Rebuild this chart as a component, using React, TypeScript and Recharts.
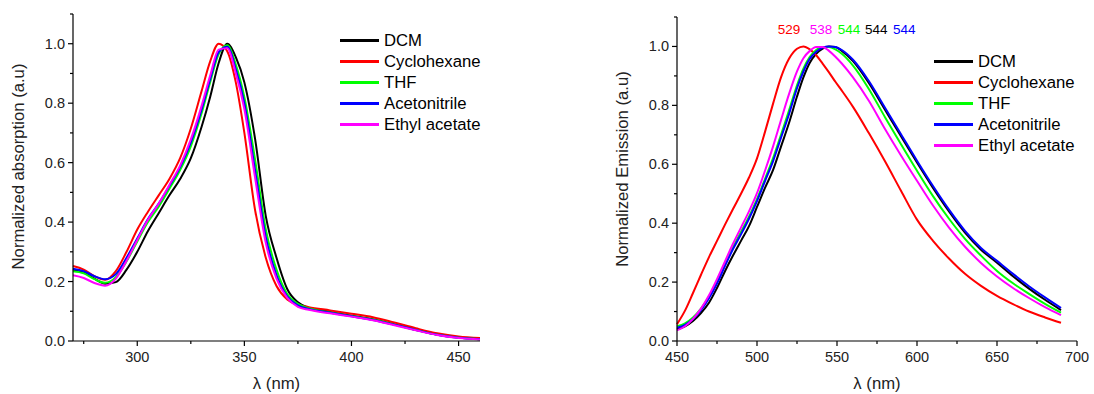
import React from 'react';
import { LineChart, Line, XAxis, YAxis, Legend, ReferenceDot } from 'recharts';

// absorption spectra (normalized)
const absWl = [270, 275, 280, 285, 290, 295, 300, 305, 310, 315, 320, 325, 330, 334, 338, 342, 346, 350, 355, 360, 365, 370, 375, 380, 390, 400, 410, 420, 430, 440, 450, 460];
const absDCM = [0.240, 0.232, 0.210, 0.193, 0.198, 0.240, 0.300, 0.370, 0.430, 0.490, 0.545, 0.615, 0.720, 0.820, 0.935, 1.000, 0.955, 0.870, 0.680, 0.420, 0.280, 0.175, 0.130, 0.112, 0.098, 0.085, 0.073, 0.056, 0.038, 0.022, 0.012, 0.006];
const absCyclo = [0.252, 0.240, 0.218, 0.206, 0.235, 0.300, 0.375, 0.435, 0.490, 0.545, 0.615, 0.715, 0.840, 0.940, 1.000, 0.975, 0.870, 0.700, 0.440, 0.280, 0.185, 0.140, 0.122, 0.114, 0.103, 0.092, 0.080, 0.062, 0.043, 0.026, 0.015, 0.010];
const absTHF = [0.235, 0.228, 0.208, 0.196, 0.215, 0.268, 0.335, 0.400, 0.452, 0.512, 0.575, 0.655, 0.765, 0.870, 0.965, 0.995, 0.930, 0.820, 0.610, 0.375, 0.240, 0.158, 0.125, 0.110, 0.096, 0.084, 0.072, 0.055, 0.037, 0.021, 0.011, 0.006];
const absMeCN = [0.243, 0.235, 0.218, 0.208, 0.225, 0.280, 0.345, 0.410, 0.462, 0.522, 0.585, 0.668, 0.778, 0.880, 0.972, 0.990, 0.915, 0.800, 0.575, 0.350, 0.222, 0.150, 0.120, 0.108, 0.095, 0.083, 0.071, 0.055, 0.037, 0.021, 0.011, 0.006];
const absEtOAc = [0.221, 0.212, 0.195, 0.186, 0.210, 0.270, 0.340, 0.408, 0.462, 0.525, 0.590, 0.678, 0.790, 0.892, 0.980, 0.985, 0.900, 0.780, 0.550, 0.330, 0.210, 0.145, 0.115, 0.105, 0.093, 0.082, 0.070, 0.053, 0.036, 0.020, 0.010, 0.005];

// emission spectra (normalized)
const emWl = [450, 455, 460, 465, 470, 475, 480, 485, 490, 495, 500, 505, 510, 515, 520, 525, 529, 533, 537, 541, 545, 549, 553, 560, 570, 580, 590, 600, 610, 620, 630, 640, 650, 660, 670, 680, 690];
const emDCM = [0.040, 0.050, 0.068, 0.095, 0.130, 0.180, 0.237, 0.290, 0.340, 0.390, 0.455, 0.520, 0.580, 0.660, 0.740, 0.830, 0.895, 0.945, 0.975, 0.993, 1.000, 0.998, 0.985, 0.950, 0.875, 0.785, 0.695, 0.606, 0.520, 0.440, 0.368, 0.310, 0.266, 0.220, 0.178, 0.140, 0.105];
const emCyclo = [0.057, 0.103, 0.163, 0.225, 0.285, 0.340, 0.395, 0.448, 0.500, 0.555, 0.620, 0.710, 0.805, 0.895, 0.958, 0.992, 1.000, 0.990, 0.970, 0.942, 0.912, 0.880, 0.850, 0.795, 0.705, 0.610, 0.510, 0.412, 0.340, 0.280, 0.228, 0.187, 0.153, 0.125, 0.100, 0.080, 0.062];
const emTHF = [0.050, 0.060, 0.080, 0.110, 0.150, 0.200, 0.260, 0.318, 0.370, 0.422, 0.482, 0.550, 0.620, 0.700, 0.782, 0.868, 0.925, 0.965, 0.988, 0.998, 0.998, 0.990, 0.975, 0.935, 0.855, 0.760, 0.668, 0.578, 0.492, 0.415, 0.347, 0.290, 0.238, 0.196, 0.160, 0.126, 0.096];
const emMeCN = [0.045, 0.055, 0.075, 0.105, 0.145, 0.195, 0.255, 0.312, 0.362, 0.415, 0.475, 0.543, 0.610, 0.690, 0.770, 0.858, 0.915, 0.958, 0.982, 0.996, 1.000, 0.998, 0.988, 0.955, 0.882, 0.792, 0.702, 0.612, 0.526, 0.446, 0.374, 0.316, 0.272, 0.228, 0.186, 0.148, 0.112];
const emEtOAc = [0.036, 0.050, 0.075, 0.110, 0.155, 0.210, 0.270, 0.330, 0.385, 0.440, 0.502, 0.578, 0.660, 0.750, 0.838, 0.915, 0.960, 0.985, 0.998, 0.998, 0.985, 0.965, 0.942, 0.895, 0.815, 0.720, 0.630, 0.544, 0.460, 0.385, 0.320, 0.265, 0.219, 0.180, 0.146, 0.115, 0.088];

const solvents = ['DCM', 'Cyclohexane', 'THF', 'Acetonitrile', 'Ethyl acetate'];
const colors = ['#000000', '#ff0000', '#00ff00', '#0000ff', '#ff00ff'];

// emission maxima labels
const peakLabels = ['529', '538', '544', '544', '544'];
const peakColors = ['#ff0000', '#ff00ff', '#00ff00', '#000000', '#0000ff'];
const peakLabelX = [520, 540, 557.5, 574.5, 592];

const yTicks = [0, 0.1, 0.2, 0.3, 0.4, 0.5, 0.6, 0.7, 0.8, 0.9, 1.0, 1.1];
const yMajors = [0, 0.2, 0.4, 0.6, 0.8, 1.0];
const absXTicks = [275, 300, 325, 350, 375, 400, 425, 450];
const absXMajors = [300, 350, 400, 450];
const emXTicks = [450, 475, 500, 525, 550, 575, 600, 625, 650, 675, 700];
const emXMajors = [450, 500, 550, 600, 650, 700];

const FONT = '"Liberation Sans", Arial, sans-serif';

const absData = absWl.map((x, i) => ({
  x, s0: absDCM[i], s1: absCyclo[i], s2: absTHF[i], s3: absMeCN[i], s4: absEtOAc[i],
}));
const emData = emWl.map((x, i) => ({
  x, s0: emDCM[i], s1: emCyclo[i], s2: emTHF[i], s3: emMeCN[i], s4: emEtOAc[i],
}));

const isMajor = (list: number[], v: number) => list.some((m) => Math.abs(m - v) < 1e-6);

const xTick = (majors: number[]) => (props: any) => {
  const { x, y, payload } = props;
  const major = isMajor(majors, payload.value);
  return (
    <g>
      <line x1={x} y1={y} x2={x} y2={y + (major ? 5 : 3)} stroke="#000" strokeWidth={1.2} />
      {major && (
        <text x={x} y={y + 16} textAnchor="middle" dominantBaseline="central" fontSize={14.5} fill="#222">
          {payload.value}
        </text>
      )}
    </g>
  );
};

const yTick = (props: any) => {
  const { x, y, payload } = props;
  const major = isMajor(yMajors, payload.value);
  return (
    <g>
      <line x1={x} y1={y} x2={x - (major ? 5 : 3)} y2={y} stroke="#000" strokeWidth={1.2} />
      {major && (
        <text x={x - 8} y={y} textAnchor="end" dominantBaseline="central" fontSize={14.5} fill="#222">
          {payload.value.toFixed(1)}
        </text>
      )}
    </g>
  );
};

const yTitle = (text: string, cx: number, shift: number) => ({
  content: (p: any) => {
    const cy = p.viewBox.y + p.viewBox.height / 2 - shift;
    return (
      <text x={cx} y={cy} transform={`rotate(-90 ${cx} ${cy})`} textAnchor="middle" dominantBaseline="central" fontSize={16.7} fill="#222">
        {text}
      </text>
    );
  },
});

const xTitle = {
  content: (p: any) => (
    <text x={p.viewBox.x + p.viewBox.width / 2} y={p.viewBox.y + 42} textAnchor="middle" dominantBaseline="central" fontSize={16.7} fill="#222">
      λ (nm)
    </text>
  ),
};

const LegendBox = () => (
  <div style={{ fontSize: 16.7, color: '#000', fontFamily: FONT }}>
    {solvents.map((name, i) => (
      <div key={name} style={{ display: 'flex', alignItems: 'center', height: 21 }}>
        <svg width={39} height={21} style={{ display: 'block' }}>
          <line x1={0} x2={39} y1={10.5} y2={10.5} stroke={colors[i]} strokeWidth={2.8} />
        </svg>
        <span style={{ marginLeft: 5, whiteSpace: 'nowrap' }}>{name}</span>
      </div>
    ))}
  </div>
);

export default function App() {
  const axisLine = { stroke: '#000', strokeWidth: 1.2 };
  return (
    <div style={{ position: 'absolute', left: 0, top: 0, width: 1094, height: 394, background: '#fff', fontFamily: FONT }}>
      <div style={{ position: 'absolute', left: 0, top: 0 }}>
        <LineChart width={500} height={394} data={absData} margin={{ top: 14, right: 20, bottom: 0, left: 0 }}>
          <XAxis dataKey="x" type="number" domain={[270, 460]} ticks={absXTicks} interval={0}
            tickSize={0} tickMargin={0} tickLine={false} axisLine={axisLine} height={53}
            tick={xTick(absXMajors)} label={xTitle} />
          <YAxis type="number" domain={[0, 1.1]} ticks={yTicks} interval={0}
            tickSize={0} tickMargin={0} tickLine={false} axisLine={axisLine} width={73}
            tick={yTick} label={yTitle('Normalized absorption (a.u)', 18, 11)} />
          <Legend layout="vertical" align="center" verticalAlign="middle"
            wrapperStyle={{ left: 340, top: 30 }} content={() => <LegendBox />} />
          {solvents.map((name, i) => (
            <Line key={name} name={name} dataKey={`s${i}`} type="monotone" stroke={colors[i]}
              strokeWidth={2} dot={false} isAnimationActive={false} />
          ))}
        </LineChart>
      </div>
      <div style={{ position: 'absolute', left: 560, top: 0 }}>
        <LineChart width={534} height={394} data={emData} margin={{ top: 17, right: 17, bottom: 0, left: 0 }}>
          <XAxis dataKey="x" type="number" domain={[450, 700]} ticks={emXTicks} interval={0}
            tickSize={0} tickMargin={0} tickLine={false} axisLine={axisLine} height={53}
            tick={xTick(emXMajors)} label={xTitle} />
          <YAxis type="number" domain={[0, 1.1]} ticks={yTicks} interval={0}
            tickSize={0} tickMargin={0} tickLine={false} axisLine={axisLine} width={117}
            tick={yTick} label={yTitle('Normalized Emission (a.u)', 62, 10)} />
          <Legend layout="vertical" align="center" verticalAlign="middle"
            wrapperStyle={{ left: 374, top: 51 }} content={() => <LegendBox />} />
          {solvents.map((name, i) => (
            <Line key={name} name={name} dataKey={`s${i}`} type="monotone" stroke={colors[i]}
              strokeWidth={2} dot={false} isAnimationActive={false} />
          ))}
          {peakLabels.map((t, i) => (
            <ReferenceDot key={i} x={peakLabelX[i]} y={1.058} r={0} stroke="none" fill="none"
              label={{ value: t, fill: peakColors[i], fontSize: 13.5, position: 'center' }} />
          ))}
        </LineChart>
      </div>
    </div>
  );
}
